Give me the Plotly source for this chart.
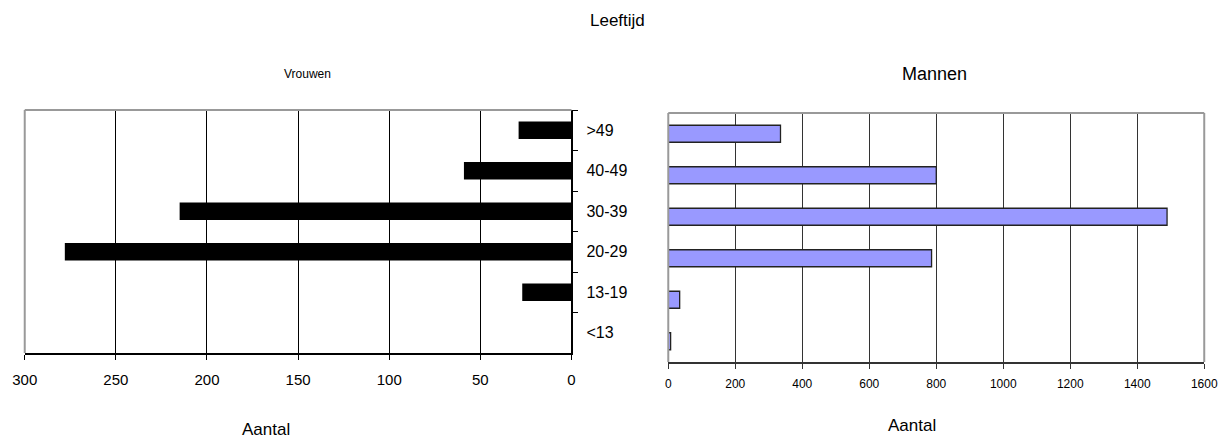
import plotly.graph_objects as go

categories = ["<13", "13-19", "20-29", "30-39", "40-49", ">49"]
vrouwen = [0, 27, 278, 215, 59, 29]
mannen = [7, 34, 786, 1489, 800, 335]
left_ticks = [0, 50, 100, 150, 200, 250, 300]
right_ticks = [0, 200, 400, 600, 800, 1000, 1200, 1400, 1600]

W, H = 1229, 441
def px(x): return x / W
def py(y): return 1 - y / H

FONT = "Liberation Sans, Arial, sans-serif"

# plot-area frames (pixels)
L = dict(x0=12, x1=571, top=110, bottom=353)
R = dict(x0=670, x1=1218, top=113, bottom=362)

fig = go.Figure()
fig.add_trace(go.Bar(y=categories, x=vrouwen, orientation="h",
                     marker=dict(color="#000000", line=dict(width=0)),
                     width=0.43, xaxis="x", yaxis="y", showlegend=False))
fig.add_trace(go.Bar(y=categories, x=mannen, orientation="h",
                     marker=dict(color="#9999FF", line=dict(color="#222222", width=1.3)),
                     width=0.41, xaxis="x2", yaxis="y2", showlegend=False))

gray = dict(color="#999999", width=2)
shapes = [
    dict(type="line", xref="paper", yref="paper", x0=px(L["x0"]), x1=px(L["x1"]), y0=py(L["top"]), y1=py(L["top"]), line=gray),
    dict(type="line", xref="paper", yref="paper", x0=px(L["x0"]), x1=px(L["x0"]), y0=py(L["top"]), y1=py(L["bottom"]), line=gray),
    dict(type="line", xref="paper", yref="paper", x0=px(R["x0"]), x1=px(R["x1"]), y0=py(R["top"]), y1=py(R["top"]), line=gray),
    dict(type="line", xref="paper", yref="paper", x0=px(R["x0"]), x1=px(R["x0"]), y0=py(R["top"]), y1=py(R["bottom"]), line=gray),
    dict(type="line", xref="paper", yref="paper", x0=px(R["x1"]), x1=px(R["x1"]), y0=py(R["top"]), y1=py(R["bottom"]), line=gray),
]

fig.update_layout(
    width=W, height=H, margin=dict(l=0, r=0, t=0, b=0),
    paper_bgcolor="white", plot_bgcolor="white",
    font=dict(family=FONT, color="#000000"),
    xaxis=dict(domain=[px(L["x0"]), px(L["x1"])], range=[300, 0], tickvals=left_ticks,
               showgrid=True, gridcolor="#000000", gridwidth=1,
               showline=True, linecolor="#000000", linewidth=1.5,
               ticks="outside", ticklen=5, tickcolor="#000000",
               tickfont=dict(size=15), zeroline=False, anchor="y",
               ticklabelstandoff=7),
    yaxis=dict(domain=[py(L["bottom"]), py(L["top"])], side="right", type="category",
               categoryorder="array", categoryarray=categories,
               showline=True, linecolor="#000000", linewidth=1.5,
               ticks="outside", ticklen=5, tickcolor="#000000", tickson="boundaries",
               tickfont=dict(size=16), showgrid=False, anchor="x", ticklabelstandoff=10),
    xaxis2=dict(domain=[px(R["x0"]), px(R["x1"])], range=[0, 1600], tickvals=right_ticks,
                showgrid=True, gridcolor="#333333", gridwidth=1,
                showline=True, linecolor="#333333", linewidth=1.5,
                ticks="outside", ticklen=5, tickcolor="#333333",
                tickfont=dict(size=12), zeroline=False, anchor="y2",
                ticklabelstandoff=5),
    yaxis2=dict(domain=[py(R["bottom"]), py(R["top"])], type="category",
                categoryorder="array", categoryarray=categories,
                showticklabels=False, showgrid=False, showline=False,
                anchor="x2"),
    shapes=shapes,
    annotations=[
        dict(text="Leeftijd", x=px(618), y=py(20), xref="paper", yref="paper",
             showarrow=False, font=dict(size=17), xanchor="center", yanchor="middle"),
        dict(text="Vrouwen", x=px(301), y=py(74), xref="paper", yref="paper",
             showarrow=False, font=dict(size=12), xanchor="center", yanchor="middle"),
        dict(text="Mannen", x=px(942), y=py(74), xref="paper", yref="paper",
             showarrow=False, font=dict(size=18), xanchor="center", yanchor="middle"),
        dict(text="Aantal", x=px(259), y=py(429), xref="paper", yref="paper",
             showarrow=False, font=dict(size=17), xanchor="center", yanchor="middle"),
        dict(text="Aantal", x=px(919), y=py(425), xref="paper", yref="paper",
             showarrow=False, font=dict(size=17), xanchor="center", yanchor="middle"),
    ],
)

fig.write_html("out.html")
